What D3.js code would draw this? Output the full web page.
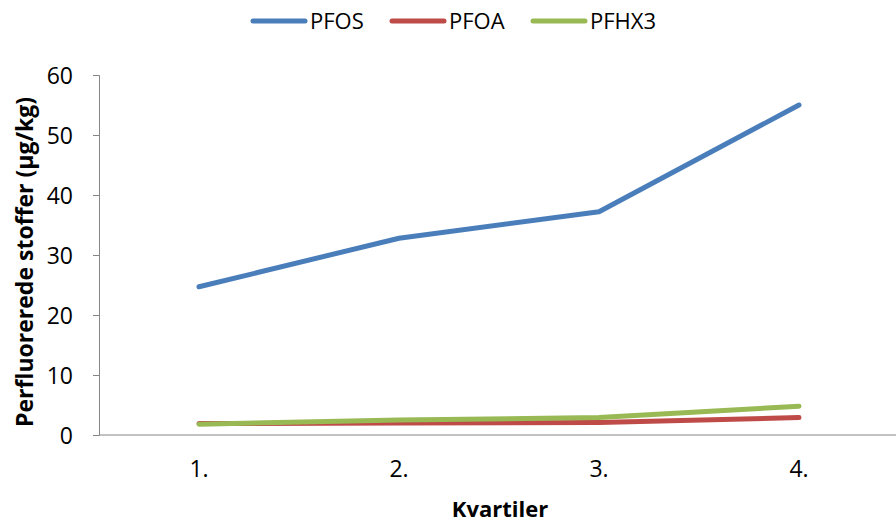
<!DOCTYPE html>
<html><head><meta charset="utf-8">
<script src="https://cdn.jsdelivr.net/npm/d3@7"></script>
<style>body{margin:0;background:#fff}svg{display:block}text{font-family:"Open Sans","Liberation Sans",sans-serif}</style>
</head><body>
<script>
const categories = ["1.", "2.", "3.", "4."];
const seriesNames = ["PFOS", "PFOA", "PFHX3"];
const pfos = [24.7, 32.8, 37.2, 55.0];
const pfoa = [1.9, 2.0, 2.1, 2.9];
const pfhx3 = [1.8, 2.5, 2.9, 4.8];
const yTicks = [0, 10, 20, 30, 40, 50, 60];
const colors = ["#4a7ebb", "#be4b48", "#98b954"];
const yTitle = "Perfluorerede stoffer (µg/kg)";
const xTitle = "Kvartiler";

const W = 896, H = 527;
const svg = d3.select("body").append("svg").attr("width", W).attr("height", H);
const x = d3.scaleBand().domain(categories).range([99, 899]);
const y = d3.scaleLinear().domain([0, 60]).range([435, 75]);

const yAxis = svg.append("g").attr("transform", "translate(99,0)")
  .call(d3.axisLeft(y).tickValues(yTicks).tickSize(6).tickPadding(20));
yAxis.select(".domain").attr("stroke", "#868686");
yAxis.selectAll(".tick line").attr("stroke", "#868686");
yAxis.selectAll("text").attr("font-size", 23).attr("fill", "#000").attr("dy", "0.36em");

const xAxis = svg.append("g").attr("transform", "translate(0,435)")
  .call(d3.axisBottom(x).tickSize(0).tickPadding(26));
xAxis.select(".domain").attr("stroke", "#868686").attr("d", "M99,0H896");
xAxis.selectAll("text").attr("font-size", 23).attr("fill", "#000");

const data = [pfos, pfoa, pfhx3];
const line = d3.line().x((d, i) => x(categories[i]) + x.bandwidth() / 2).y(d => y(d));
data.forEach((s, k) => {
  svg.append("path").datum(s).attr("d", line).attr("fill", "none")
    .attr("stroke", colors[k]).attr("stroke-width", 5)
    .attr("stroke-linecap", "round").attr("stroke-linejoin", "round");
});

svg.append("text").attr("x", 500).attr("y", 517).attr("text-anchor", "middle")
  .attr("font-size", 22).attr("font-weight", "bold").text(xTitle);
svg.append("text").attr("transform", "translate(33,262) rotate(-90)").attr("text-anchor", "middle")
  .attr("font-size", 23).attr("font-weight", "bold").text(yTitle);

const legX = [253, 392, 533];
seriesNames.forEach((n, k) => {
  svg.append("line").attr("x1", legX[k]).attr("x2", legX[k] + 52).attr("y1", 21).attr("y2", 21)
    .attr("stroke", colors[k]).attr("stroke-width", 5).attr("stroke-linecap", "round");
  svg.append("text").attr("x", legX[k] + 57).attr("y", 29).attr("font-size", 22).text(n);
});
</script>
</body></html>
